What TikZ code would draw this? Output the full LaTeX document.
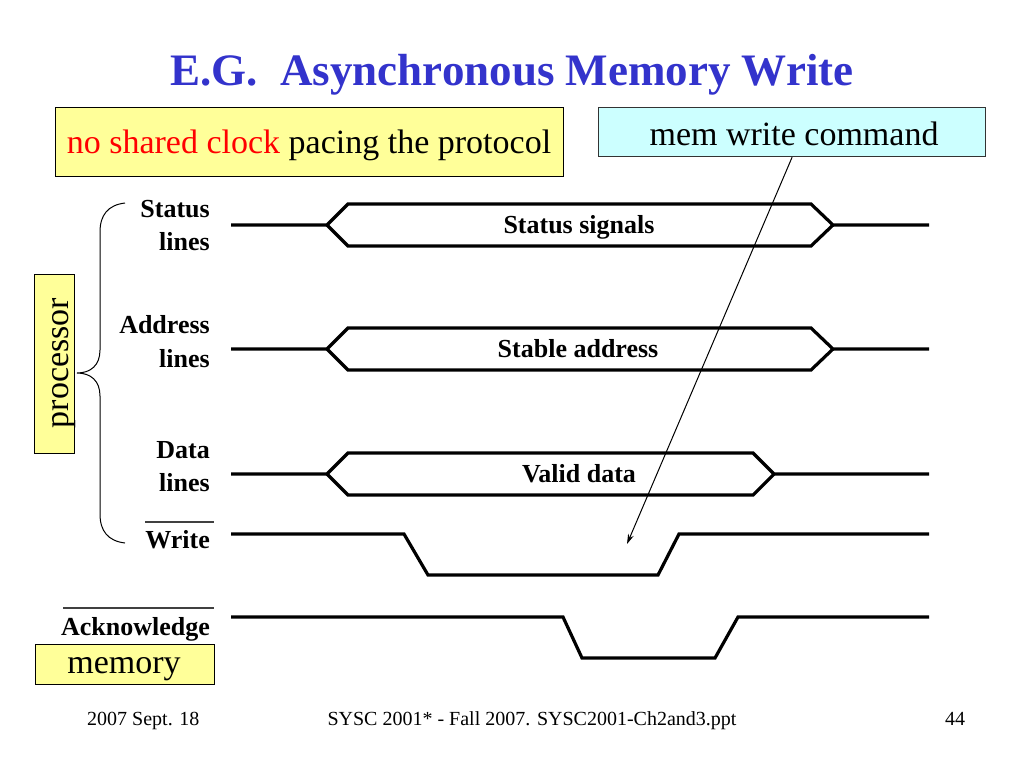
\documentclass[tikz,border=0pt]{standalone}
\usepackage{fontspec}
\setmainfont{Liberation Serif}
\usetikzlibrary{arrows.meta}
\definecolor{titleblue}{RGB}{51,51,204}
\definecolor{noteyellow}{RGB}{255,255,153}
\definecolor{notecyan}{RGB}{204,255,255}
\begin{document}
\begin{tikzpicture}[x=1pt,y=-1pt,
  sig/.style={line width=3.2pt, line join=miter, line cap=butt},
  lbl/.style={inner sep=0pt, font=\fontsize{26}{30}\selectfont\bfseries, anchor=base east},
  buslbl/.style={inner sep=0pt, font=\fontsize{26}{30}\selectfont\bfseries, anchor=base},
  notebox/.style={draw=black, line width=1.2pt, inner sep=0pt, anchor=north west},
  notetext/.style={inner sep=0pt, font=\fontsize{34}{40}\selectfont, anchor=base},
  foot/.style={inner sep=0pt, font=\fontsize{20}{24}\selectfont, anchor=base},
  bar/.style={line width=2pt, draw=black!75},
  pointer/.style={line width=1pt, -{Stealth[length=10pt,width=6pt]}},
]
\useasboundingbox[fill=white] (0,0) rectangle (1024,768);

% title
\node[inner sep=0pt, anchor=base, text=titleblue, font=\fontsize{45}{54}\selectfont\bfseries] (title) at (512,85) {E.G.\ \ Asynchronous Memory Write};

% note boxes
\node[notebox, fill=noteyellow, minimum width=508pt, minimum height=69pt] (clockbox) at (55,107) {};
\node[notetext] (clocktext) at (309,153) {{\color{red}no shared clock} pacing the protocol};
\node[notebox, fill=notecyan, draw=black!80, minimum width=387pt, minimum height=49pt] (cmd) at (598,107) {};
\node[notetext] (cmdtext) at (794,145) {mem write command};

\node[notebox, fill=noteyellow, minimum width=40pt, minimum height=179pt] (procbox) at (34,274) {};
\node[notetext, rotate=90] (proctext) at (68,363) {processor};
\node[notebox, fill=noteyellow, minimum width=179pt, minimum height=40pt] (membox) at (35,644) {};
\node[notetext] (memtext) at (124,673) {memory};

% brace
\draw[line width=1pt] (125,203) .. controls (108,205) and (100,215) .. (100,232) -- (100,350)
  .. controls (100,365) and (91,373) .. (77,373)
  .. controls (91,373) and (100,381) .. (100,396) -- (100,514)
  .. controls (100,531) and (108,541) .. (125,543);

% left labels
\node[lbl] (l1a) at (210,217) {Status};
\node[lbl] (l1b) at (210,250) {lines};
\node[lbl] (l2a) at (210,333) {Address};
\node[lbl] (l2b) at (210,367) {lines};
\node[lbl] (l3a) at (210,458) {Data};
\node[lbl] (l3b) at (210,491) {lines};
\node[lbl] (l4) at (210,548) {Write};
\node[lbl] (l5) at (210,635) {Acknowledge};
\draw[bar] (145,522) -- (214,522);
\draw[bar] (63,608) -- (214,608);

% status bus
\draw[sig] (231,225) -- (327,225) -- (348,204) -- (811,204) -- (833,225) -- (929,225);
\draw[sig] (327,225) -- (348,246) -- (811,246) -- (833,225);
\node[buslbl] (b1) at (579,233) {Status signals};
% address bus
\draw[sig] (231,349) -- (327,349) -- (348,328) -- (811,328) -- (833,349) -- (929,349);
\draw[sig] (327,349) -- (348,370) -- (811,370) -- (833,349);
\node[buslbl] (b2) at (578,357) {Stable address};
% data bus
\draw[sig] (231,474) -- (327,474) -- (348,453) -- (753,453) -- (774,474) -- (929,474);
\draw[sig] (327,474) -- (348,495) -- (753,495) -- (774,474);
\node[buslbl] (b3) at (579,482) {Valid data};
% write
\draw[sig] (231,534) -- (404,534) -- (428,575) -- (658,575) -- (679,534) -- (929,534);
% acknowledge
\draw[sig] (231,617) -- (563,617) -- (582,658) -- (715,658) -- (738,617) -- (929,617);

% pointer
\coordinate (tip) at (627,544);
\draw[pointer] (cmd.south) -- (tip);

% footer
\node[foot, anchor=base west] (fdate) at (87,725) {2007 Sept. 18};
\node[foot] (fmid) at (532,725) {SYSC 2001* - Fall 2007. SYSC2001-Ch2and3.ppt};
\node[foot] (fnum) at (955,725) {44};
\end{tikzpicture}
\end{document}
